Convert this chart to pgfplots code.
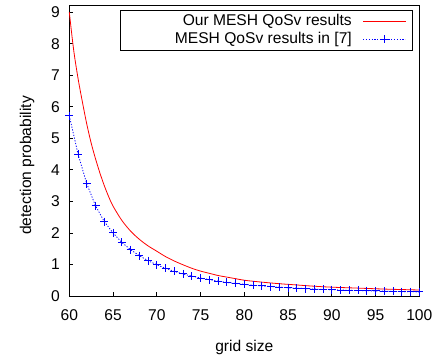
\documentclass[border=0pt]{standalone}
\usepackage{fontspec}
\setmainfont{Liberation Sans}
\usepackage{pgfplots}
\pgfplotsset{compat=1.18}
\begin{document}
\begin{tikzpicture}
\begin{axis}[name=ax,
  scale only axis, width=350pt, height=291pt,
  xmin=60, xmax=100, ymin=0, ymax=9.23,
  xtick={60,65,...,100}, ytick={0,1,...,9},
  tick pos=left, tick align=inside, major tick length=4pt,
  tick style={black, line width=0.8pt},
  axis line style={line width=0.8pt},
  clip=false,
  /pgf/number format/assume math mode=true,
  ticklabel style={font=\fontsize{15.6}{18}\selectfont},
  xticklabel style={yshift=-10pt},
  yticklabel style={xshift=-6pt},
  label style={font=\fontsize{15.6}{18}\selectfont},
  xlabel={grid size},
  xlabel style={at={(axis description cs:0.5,0)}, anchor=base, yshift=-55.5pt},
  ylabel={detection probability},
  ylabel style={at={(axis description cs:-0.1094,0.4485)}, anchor=base},
  legend plot pos=right,
  legend cell align=right,
  legend style={at={(axis description cs:0.982,0.9828)}, anchor=north east,
    draw=black, line width=0.8pt, inner xsep=7pt, inner ysep=2pt, row sep=0pt, column sep=10pt,
    font=\fontsize{15.6}{18}\selectfont,
    nodes={inner sep=1pt, text height=12pt, text depth=4pt}},
  legend image code/.code={\draw[mark repeat=2,mark phase=2,#1] plot coordinates {(0pt,0pt) (21pt,0pt) (42pt,0pt)};},
]
\addplot[red, line width=0.8pt, smooth, tension=0.5] coordinates {
(60,9.0) (60.5,7.8) (61,6.9) (61.5,6.15) (62,5.45) (62.5,4.85) (63,4.35) (63.5,3.9) (64,3.5) (64.5,3.15) (65,2.85)
(66,2.4) (67,2.06) (68,1.8) (69,1.59) (70,1.42) (71,1.25) (72,1.11) (73,0.99) (74,0.88) (75,0.79)
(76,0.72) (77,0.65) (78,0.6) (79,0.55) (80,0.5) (82,0.44) (84,0.39) (86,0.35) (88,0.31) (90,0.28)
(92,0.26) (94,0.24) (96,0.22) (98,0.205) (100,0.19)
};
\addlegendentry{\makebox[223pt][r]{Our MESH QoSv results}}
\addplot[blue, line width=0.8pt, dash pattern=on 1.2pt off 1.6pt, mark=+, mark size=4pt,
  mark options={solid, line width=1pt}] coordinates {
(60,5.72) (61,4.5) (62,3.56) (63,2.86) (64,2.36) (65,2.0) (66,1.7) (67,1.47) (68,1.28) (69,1.12)
(70,0.99) (71,0.88) (72,0.78) (73,0.7) (74,0.63) (75,0.57) (76,0.52) (77,0.47) (78,0.43) (79,0.4)
(80,0.37) (81,0.34) (82,0.32) (83,0.3) (84,0.28) (85,0.26) (86,0.25) (87,0.235) (88,0.22) (89,0.21)
(90,0.2) (91,0.19) (92,0.18) (93,0.175) (94,0.167) (95,0.16) (96,0.153) (97,0.147) (98,0.14) (99,0.135) (100,0.13)
};
\addlegendentry{\makebox[223pt][r]{MESH QoSv results in [7]}}
\end{axis}
\pgfresetboundingbox
\path (ax.south west) ++(-69.3pt,-64pt) rectangle ++(447pt,360pt);
\end{tikzpicture}
\end{document}
